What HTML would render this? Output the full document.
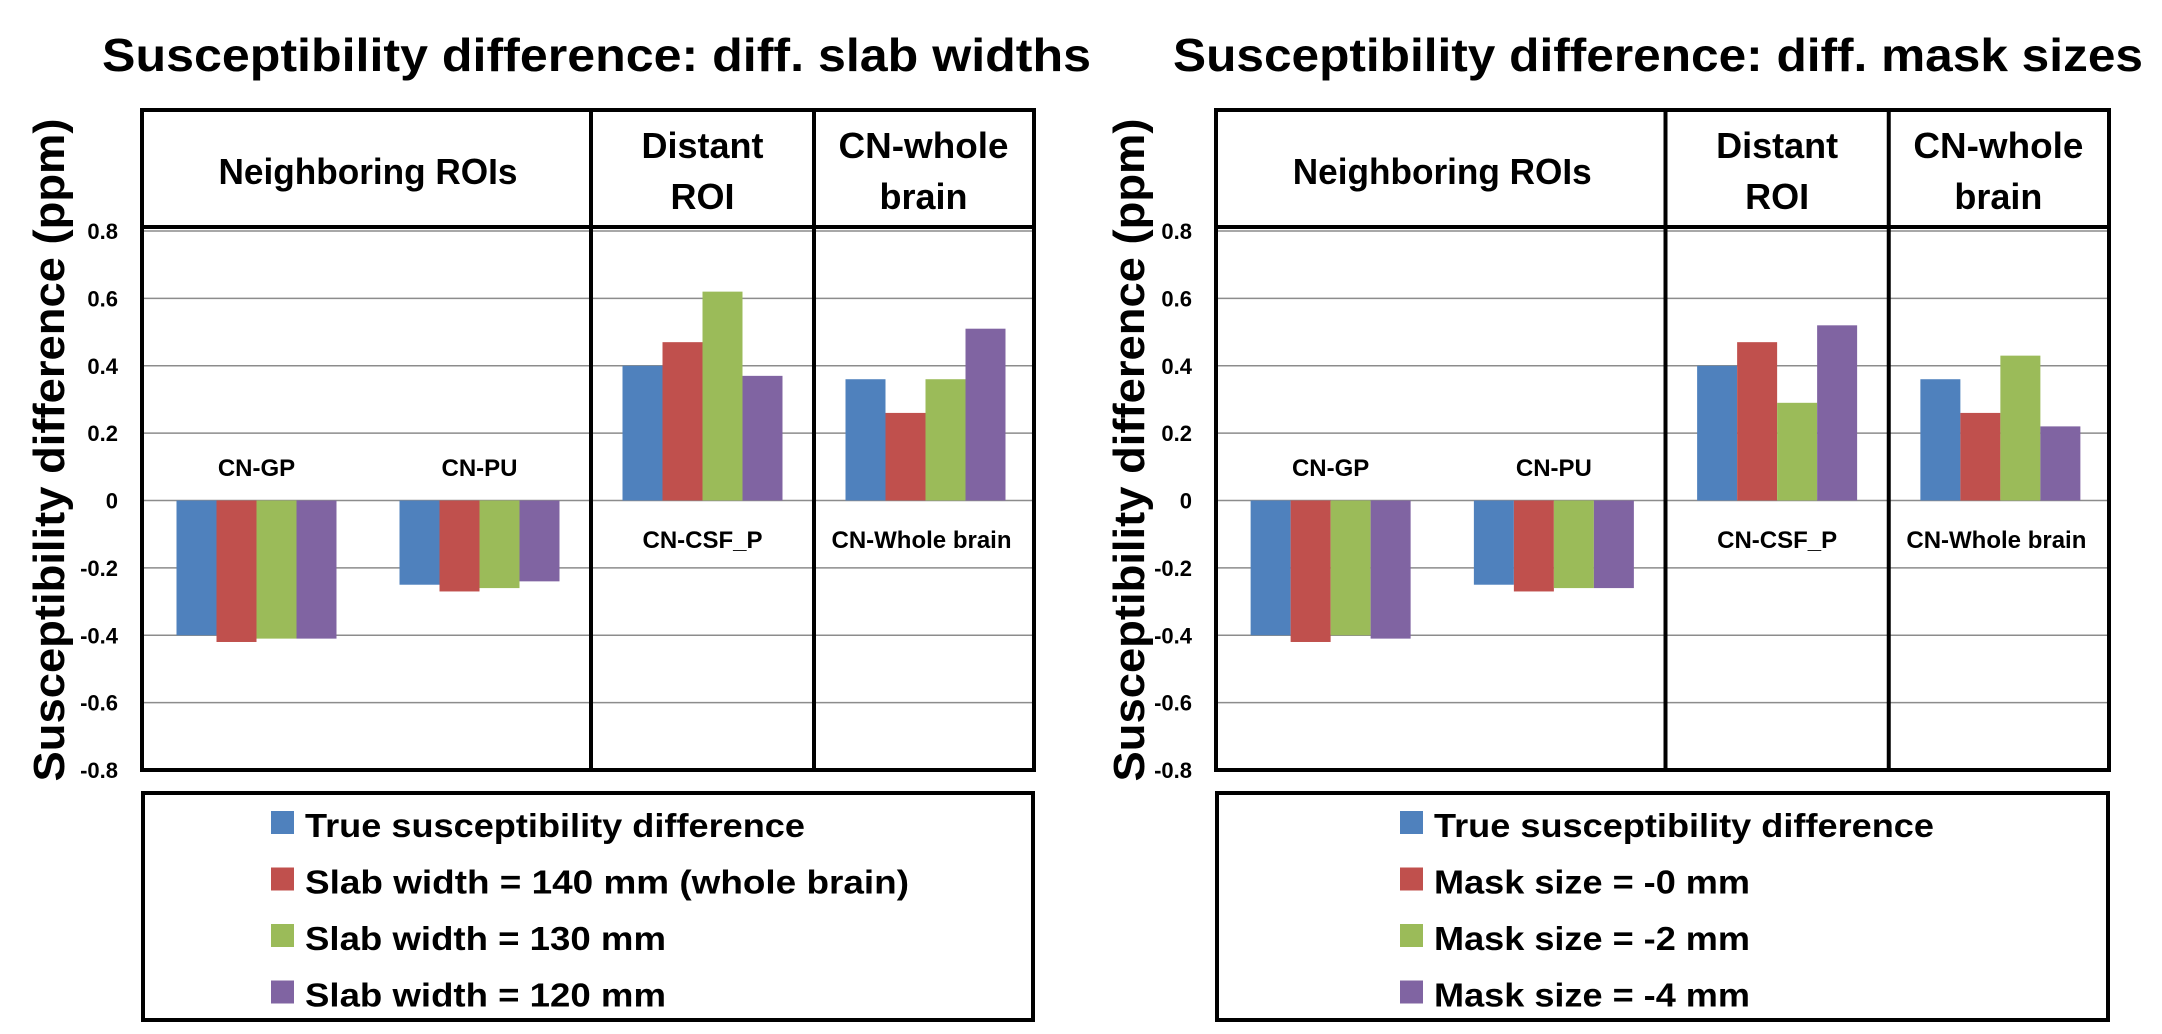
<!DOCTYPE html>
<html><head><meta charset="utf-8"><title>Susceptibility difference</title>
<style>html,body{margin:0;padding:0;background:#fff;}svg{display:block;font-family:"Liberation Sans",sans-serif;font-weight:bold;}</style>
</head><body>
<svg id="fig" width="2162" height="1034" viewBox="0 0 2162 1034" xmlns="http://www.w3.org/2000/svg"></svg>
<script>
const categories = ["CN-GP", "CN-PU", "CN-CSF_P", "CN-Whole brain"];
const yTicks = [0.8, 0.6, 0.4, 0.2, 0, -0.2, -0.4, -0.6, -0.8];
const tickLabels = ["0.8", "0.6", "0.4", "0.2", "0", "-0.2", "-0.4", "-0.6", "-0.8"];
const seriesColors = ["#4F81BD", "#C0504D", "#9BBB59", "#8064A2"];
const slabTrue = [-0.40, -0.25, 0.40, 0.36];
const slab140 = [-0.42, -0.27, 0.47, 0.26];
const slab130 = [-0.41, -0.26, 0.62, 0.36];
const slab120 = [-0.41, -0.24, 0.37, 0.51];
const maskTrue = [-0.40, -0.25, 0.40, 0.36];
const mask0 = [-0.42, -0.27, 0.47, 0.26];
const mask2 = [-0.40, -0.26, 0.29, 0.43];
const mask4 = [-0.41, -0.26, 0.52, 0.22];
const slabLegend = ["True susceptibility difference", "Slab width = 140 mm (whole brain)", "Slab width = 130 mm", "Slab width = 120 mm"];
const maskLegend = ["True susceptibility difference", "Mask size = -0 mm", "Mask size = -2 mm", "Mask size = -4 mm"];

const NS = "http://www.w3.org/2000/svg";
const svg = document.getElementById("fig");
function mk(tag, attrs, parent) {
  const e = document.createElementNS(NS, tag);
  for (const k in attrs) e.setAttribute(k, attrs[k]);
  (parent || svg).appendChild(e);
  return e;
}
function txt(s, attrs, parent) { const t = mk("text", attrs, parent); t.textContent = s; return t; }

function panel(opt) {
  const g = mk("g", {});
  
  
  const L = opt.left, R = opt.right, T = 110, H = 227, B = 770;
  const yTop = 231, yBot = 770;
  const y = v => yTop + (0.8 - v) / 1.6 * (yBot - yTop);
  const cw = (R - L) / categories.length;
  const xc = i => L + cw * i + cw / 2 + 3;
  const bw = 40;

  const title = txt(opt.title, {x: opt.titleX, y: 71, "font-size": 46, textLength: opt.titleW, lengthAdjust: "spacingAndGlyphs"}, g);
  
  

  yTicks.forEach((v, i) => {
    const ln = mk("line", {x1: L, x2: R, y1: y(v), y2: y(v), stroke: "#8c8c8c", "stroke-width": 1.5}, g);
    
    
    const t = txt(tickLabels[i], {x: L - 24, y: y(v) + 8, "font-size": 22, "text-anchor": "end"}, g);
    
    
  });

  opt.series.forEach((arr, s) => {
    arr.forEach((v, i) => {
      const x0 = xc(i) - 2 * bw + s * bw;
      const r = mk("rect", {x: x0, y: Math.min(y(v), y(0)), width: bw, height: Math.abs(y(v) - y(0)), fill: seriesColors[s]}, g);
      
      
    });
  });

  categories.forEach((c, i) => {
    const neg = opt.series[0][i] < 0;
    const t = txt(c, {x: xc(i) - (i === 3 ? 4 : 0), y: neg ? 476 : 548, "font-size": 24, "text-anchor": "middle"}, g);
    
    
  });

  const fr = mk("rect", {x: L, y: T, width: R - L, height: B - T, fill: "none", stroke: "#000", "stroke-width": 4}, g);
  
  
  const hl = mk("line", {x1: L, x2: R, y1: H, y2: H, stroke: "#000", "stroke-width": 4}, g);
  
  
  [L + cw * 2 + 3, L + cw * 3 + 3].forEach(xv => {
    const d = mk("line", {x1: xv, x2: xv, y1: T, y2: B, stroke: "#000", "stroke-width": 4}, g);
    
    
  });
  const h1 = txt("Neighboring ROIs", {x: L + cw + 3, y: 184, "font-size": 36, "text-anchor": "middle", textLength: 299, lengthAdjust: "spacingAndGlyphs"}, g);
  
  
  const h2 = txt("Distant", {x: xc(2), y: 158, "font-size": 36, "text-anchor": "middle"}, g);
  
  
  const h2b = txt("ROI", {x: xc(2), y: 209, "font-size": 36, "text-anchor": "middle"}, g);
  
  
  const h3 = txt("CN-whole", {x: xc(3) - 2, y: 158, "font-size": 36, "text-anchor": "middle", textLength: 170, lengthAdjust: "spacingAndGlyphs"}, g);
  
  
  const h3b = txt("brain", {x: xc(3) - 2, y: 209, "font-size": 36, "text-anchor": "middle"}, g);
  
  

  const yt = txt("Susceptibility  difference  (ppm)", {x: 0, y: 0, "font-size": 44, "text-anchor": "middle", textLength: 663, lengthAdjust: "spacingAndGlyphs", transform: "translate(" + (opt.yTitleX + 34) + ",450) rotate(-90)"}, g);
  
  

  const lg = mk("rect", {x: L + 1, y: 793, width: R - L - 2, height: 227, fill: "none", stroke: "#000", "stroke-width": 4}, g);
  
  
  opt.legend.forEach((s, i) => {
    const yy = 811 + i * 56.5;
    const sw = mk("rect", {x: opt.swX, y: yy, width: 23, height: 23, fill: seriesColors[i]}, g);
    
    
    const t = txt(s, {x: opt.swX + 34, y: yy + 26, "font-size": 33, textLength: opt.legendW[i], lengthAdjust: "spacingAndGlyphs"}, g);
    
    
  });
}

panel({name: "slab-width-chart", left: 142, right: 1034, title: "Susceptibility difference: diff. slab widths", titleX: 102, titleW: 989, yTitleX: 30,
  series: [slabTrue, slab140, slab130, slab120], legend: slabLegend, swX: 271, legendW: [500, 604, 361, 361]});
panel({name: "mask-size-chart", left: 1216, right: 2109, title: "Susceptibility difference: diff. mask sizes", titleX: 1173, titleW: 970, yTitleX: 1110,
  series: [maskTrue, mask0, mask2, mask4], legend: maskLegend, swX: 1400, legendW: [500, 316, 316, 316]});
</script>
</body></html>
